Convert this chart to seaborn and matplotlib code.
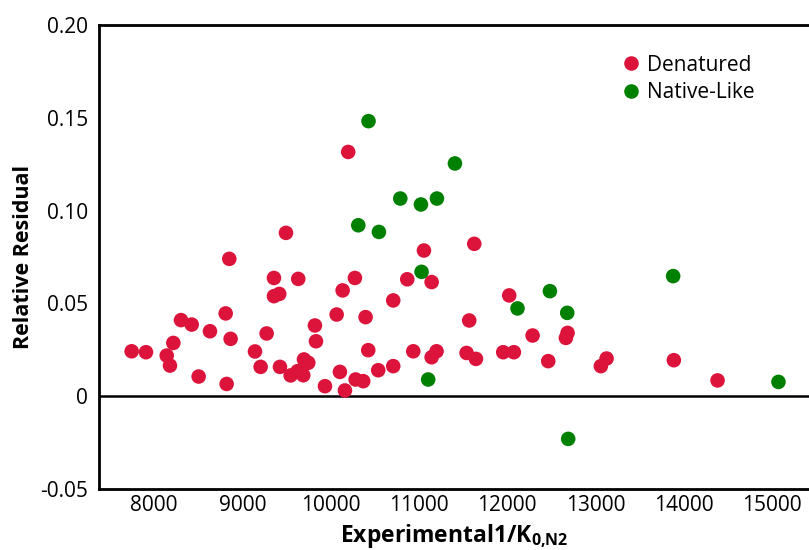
import matplotlib
matplotlib.use("Agg")
import matplotlib.pyplot as plt
import seaborn as sns
import pandas as pd

denatured_x = [7747, 7909, 8144, 8219, 8181, 8306, 8427, 8506, 8634, 8812,
               8868, 8823, 9144, 9276, 9208, 9359, 9359, 9419, 9427, 9634,
               9548, 9627, 9691, 9699, 9748, 9823, 9835, 9937, 10069, 10106,
               10137, 10163, 10276, 10284, 10370, 10397, 10427, 10540, 10710, 10710,
               10200, 9495, 8853, 11628, 11058, 10869, 11145, 12024, 11571, 12289,
               12685, 12666, 10937, 11201, 11145, 11541, 11647, 11956, 12077, 12466,
               13127, 13062, 13889, 14384]
denatured_y = [0.0242, 0.0237, 0.0219, 0.0287, 0.0165, 0.0410, 0.0386, 0.0106, 0.0350, 0.0446,
               0.0309, 0.0066, 0.0241, 0.0338, 0.0158, 0.0637, 0.0539, 0.0551, 0.0158, 0.0632,
               0.0112, 0.0135, 0.0113, 0.0198, 0.0180, 0.0381, 0.0296, 0.0054, 0.0440, 0.0131,
               0.0570, 0.0031, 0.0637, 0.0090, 0.0081, 0.0426, 0.0248, 0.0140, 0.0516, 0.0162,
               0.1316, 0.0880, 0.0740, 0.0821, 0.0785, 0.0630, 0.0615, 0.0543, 0.0408, 0.0327,
               0.0341, 0.0314, 0.0242, 0.0242, 0.0210, 0.0233, 0.0201, 0.0237, 0.0237, 0.0189,
               0.0203, 0.0162, 0.0194, 0.0085]
native_x = [10430, 10314, 10548, 10790, 11409, 11024, 11205, 11031, 13881, 12485,
            12118, 12681, 15074, 11106, 12692]
native_y = [0.1482, 0.0921, 0.0885, 0.1065, 0.1254, 0.1033, 0.1065, 0.0670, 0.0647, 0.0566,
            0.0473, 0.0449, 0.0077, 0.0090, -0.0230]

groups = ["Denatured", "Native-Like"]
y_ticks = [-0.05, 0, 0.05, 0.10, 0.15, 0.20]
y_tick_labels = ["-0.05", "0", "0.05", "0.10", "0.15", "0.20"]
x_ticks = [8000, 9000, 10000, 11000, 12000, 13000, 14000, 15000]
x_tick_labels = ["8000", "9000", "10000", "11000", "12000", "13000", "14000", "15000"]

df = pd.DataFrame({
    "x": denatured_x + native_x,
    "y": denatured_y + native_y,
    "group": [groups[0]] * len(denatured_x) + [groups[1]] * len(native_x),
})

sns.set_style("white")
plt.rcParams["font.family"] = ["Open Sans", "DejaVu Sans"]
plt.rcParams["text.color"] = "black"
plt.rcParams["axes.labelcolor"] = "black"
plt.rcParams["xtick.color"] = "black"
plt.rcParams["ytick.color"] = "black"
plt.rcParams["mathtext.fontset"] = "custom"
plt.rcParams["mathtext.bf"] = "Open Sans:bold"
plt.rcParams["mathtext.rm"] = "Open Sans"

fig = plt.figure(figsize=(8.09, 5.5), dpi=100)
ax = fig.add_axes([99 / 809, 1 - 489 / 550, 1 - 99 / 809, (489 - 25) / 550])

sns.scatterplot(data=df, x="x", y="y", hue="group", hue_order=groups,
                palette={"Denatured": "#DC143C", "Native-Like": "#008000"},
                s=110, linewidth=0, ax=ax, zorder=3)

ax.axhline(0, color="black", lw=1.8, zorder=2)
ax.set_xlim(7377, 15420)
ax.set_ylim(-0.05, 0.20)
ax.set_yticks(y_ticks)
ax.set_yticklabels(y_tick_labels)
ax.set_xticks(x_ticks)
ax.set_xticklabels(x_tick_labels)
ax.tick_params(axis="both", direction="in", length=9, width=2, labelsize=15, colors="black")
ax.tick_params(axis="y", pad=8)
ax.tick_params(axis="x", pad=4)

for side in ["left", "top", "bottom"]:
    ax.spines[side].set_visible(True)
    ax.spines[side].set_linewidth(2)
    ax.spines[side].set_color("black")
ax.spines["right"].set_visible(False)

ax.set_ylabel("Relative Residual", fontsize=15.5, fontweight="bold", labelpad=4)
ax.set_xlabel(r"Experimental1/K$_{\mathbf{0{,}N2}}$", fontsize=16.5, fontweight="bold", labelpad=5)

leg = ax.legend(loc="upper left", bbox_to_anchor=(0.7347, 0.936), frameon=False,
                fontsize=15, handlelength=1.0, handletextpad=0.27, labelspacing=0.32,
                borderpad=0, borderaxespad=0, title=None)

fig.savefig("out.png", dpi=100)
